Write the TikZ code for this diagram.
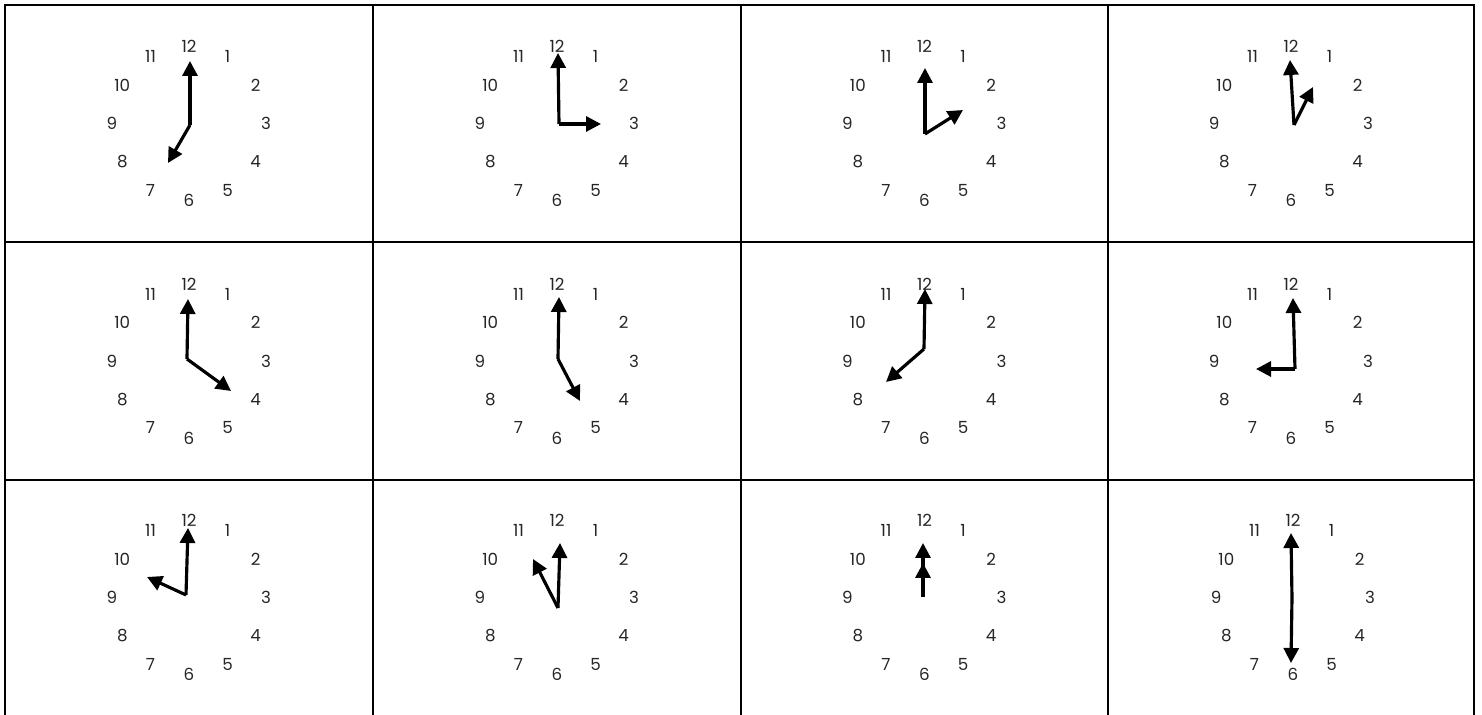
\documentclass[tikz,border=0pt]{standalone}
\usepackage{fontspec}
\setsansfont{Poppins}
\usetikzlibrary{calc,arrows.meta}
\tikzstyle{num}=[font=\sffamily\fontsize{9.5}{9.5}\selectfont, text=black!85, inner sep=0]
\tikzstyle{hand}=[line width=1.8pt, -{Triangle[length=0.3cm, width=0.3cm]}]
\tikzstyle{rule}=[line width=1.5pt, line cap=rect]

\begin{document}
\begin{tikzpicture}[x=0.02cm, y=0.02cm]
\useasboundingbox (0,0) rectangle (1482,715);
% table lines, no bottom rule
\foreach \x in {5,373,741,1108,1474} {\draw[rule] (\x,0)--(\x,710);}
\foreach \y in {710,473,235} {\draw[rule] (5,\y)--(1474,\y);}
% clock faces
\foreach \cx/\cy [count=\n] in {189/591.5, 557/591.5, 924.5/591.5, 1291/591.5,
                                189/354, 557/354, 924.5/354, 1291/354,
                                189/117.5, 557/117.5, 924.5/117.5, 1293/117.5} {
  \coordinate (c\n) at (\cx,\cy);
  \foreach \h in {1,...,12} {\node[num] (n\n-\h) at ($(c\n)+({90-30*\h}:77)$) {\h};}
}
% hands: pivot p, minute m, hour h
\coordinate (p1) at (190,590);  \coordinate (m1) at (190,654);  \coordinate (h1) at (168,552);
\coordinate (p2) at (559,591);  \coordinate (m2) at (558,662);  \coordinate (h2) at (601,591);
\coordinate (p3) at (925,581);  \coordinate (m3) at (925,647);  \coordinate (h3) at (963,605);
\coordinate (p4) at (1294,590); \coordinate (m4) at (1290,655); \coordinate (h4) at (1313,628);
\coordinate (p5) at (187,356);  \coordinate (m5) at (188,416);  \coordinate (h5) at (231,324);
\coordinate (p6) at (558,356);  \coordinate (m6) at (559,418);  \coordinate (h6) at (580,314);
\coordinate (p7) at (924,366);  \coordinate (m7) at (925,426);  \coordinate (h7) at (886,333);
\coordinate (p8) at (1295,346); \coordinate (m8) at (1293,417); \coordinate (h8) at (1256,346);
\coordinate (p9) at (186,120);  \coordinate (m9) at (188,187);  \coordinate (h9) at (147,138);
\coordinate (p10) at (558,107); \coordinate (m10) at (560,172); \coordinate (h10) at (533,156);
\coordinate (p11) at (923,118); \coordinate (m11) at (923,172); \coordinate (h11) at (923,152);
\coordinate (p12) at (1292,117); \coordinate (m12) at (1291,182); \coordinate (h12) at (1291,52);
\foreach \n in {1,...,12} {\draw[hand] (p\n)--(m\n); \draw[hand] (p\n)--(h\n);}
\end{tikzpicture}
\end{document}
